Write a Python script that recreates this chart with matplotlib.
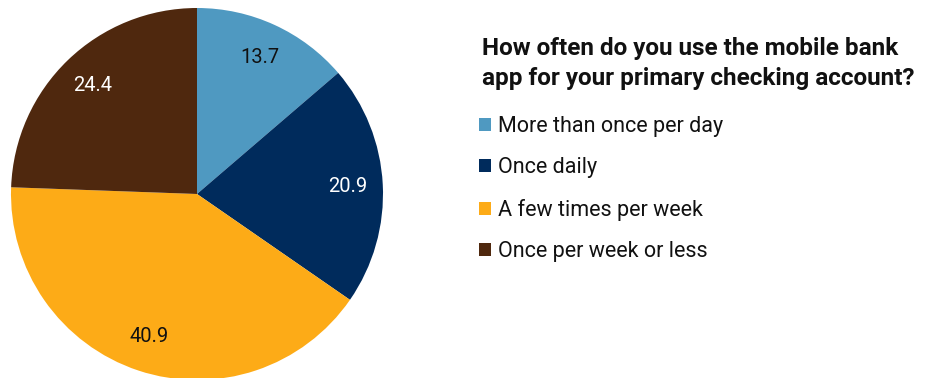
import matplotlib
matplotlib.use("Agg")
import matplotlib.pyplot as plt

plt.rcParams['font.family'] = ['Roboto', 'DejaVu Sans']

# Survey responses (% of respondents)
categories = ["More than once per day", "Once daily", "A few times per week", "Once per week or less"]
shares = [13.7, 20.9, 40.9, 24.4]
colors = ["#4F99C1", "#002B5C", "#FDAB17", "#4F280E"]
label_colors = ["#111111", "white", "#111111", "white"]
title = "How often do you use the mobile bank\napp for your primary checking account?"

W, H = 939, 378
fig = plt.figure(figsize=(W / 100, H / 100), dpi=100)

# Pie axes: centre at (197, 194) px from top-left, radius 186 px
cx, cy, r = 197, 194, 186
ax = fig.add_axes([(cx - r) / W, (H - cy - r) / H, 2 * r / W, 2 * r / H])
wedges, texts, autotexts = ax.pie(
    shares, colors=colors, startangle=90, counterclock=False,
    radius=1.0, autopct="%.1f", pctdistance=0.81,
    wedgeprops=dict(linewidth=0), textprops=dict(fontsize=14.5),
)
for t, c in zip(autotexts, label_colors):
    t.set_color(c)
ax.set_xlim(-1, 1)
ax.set_ylim(-1, 1)
ax.set_aspect("equal")
ax.axis("off")

# Title and legend on the right
fig.text(482 / W, 1 - 37 / H, title, fontsize=17.5, fontweight="bold",
         color="#111111", va="top", ha="left", linespacing=1.4)
leg = fig.legend(
    wedges, categories, loc="upper left",
    bbox_to_anchor=(479 / W, 1 - 116 / H), frameon=False,
    fontsize=15.5, handlelength=0.55, handleheight=0.55, handletextpad=0.35,
    labelspacing=0.95, borderaxespad=0, borderpad=0,
)
for t in leg.get_texts():
    t.set_color("#111111")

fig.savefig("out.png", dpi=100)
